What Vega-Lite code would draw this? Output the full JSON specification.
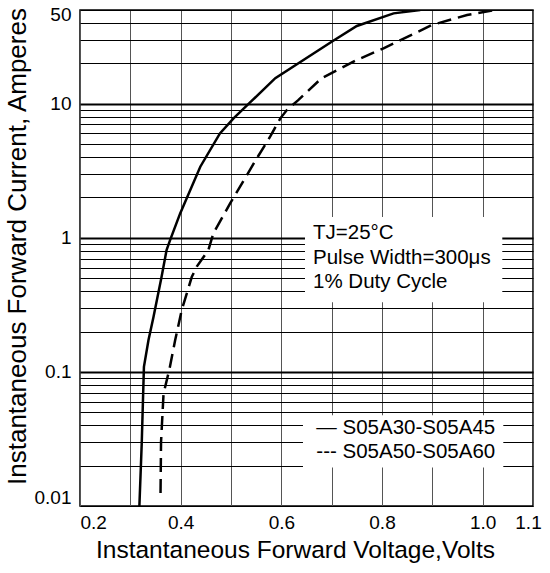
{
  "$schema": "https://vega.github.io/schema/vega-lite/v6.json",
  "width": 453,
  "height": 496,
  "autosize": "none",
  "padding": {"left": 80, "top": 10, "right": 17, "bottom": 67},
  "background": "white",
  "config": {"view": {"stroke": "black", "strokeWidth": 1.5}, "font": "Liberation Sans"},
  "datasets": {
    "curves": [
      {"s": "A", "V": 0.318, "I": 0.01},
      {"s": "A", "V": 0.3226, "I": 0.029},
      {"s": "A", "V": 0.327, "I": 0.109},
      {"s": "A", "V": 0.336, "I": 0.172},
      {"s": "A", "V": 0.346, "I": 0.257},
      {"s": "A", "V": 0.362, "I": 0.51},
      {"s": "A", "V": 0.372, "I": 0.81},
      {"s": "A", "V": 0.379, "I": 0.96},
      {"s": "A", "V": 0.399, "I": 1.52},
      {"s": "A", "V": 0.439, "I": 3.39},
      {"s": "A", "V": 0.478, "I": 6.0},
      {"s": "A", "V": 0.505, "I": 7.78},
      {"s": "A", "V": 0.54, "I": 10.4},
      {"s": "A", "V": 0.588, "I": 15.5},
      {"s": "A", "V": 0.7, "I": 29},
      {"s": "A", "V": 0.75, "I": 38},
      {"s": "A", "V": 0.823, "I": 47.2},
      {"s": "A", "V": 0.876, "I": 50},
      {"s": "B", "V": 0.36, "I": 0.0125},
      {"s": "B", "V": 0.361, "I": 0.03},
      {"s": "B", "V": 0.366, "I": 0.069},
      {"s": "B", "V": 0.378, "I": 0.106},
      {"s": "B", "V": 0.389, "I": 0.172},
      {"s": "B", "V": 0.402, "I": 0.288},
      {"s": "B", "V": 0.422, "I": 0.51},
      {"s": "B", "V": 0.432, "I": 0.61},
      {"s": "B", "V": 0.455, "I": 0.81},
      {"s": "B", "V": 0.465, "I": 1.08},
      {"s": "B", "V": 0.498, "I": 1.8},
      {"s": "B", "V": 0.551, "I": 3.9},
      {"s": "B", "V": 0.578, "I": 5.7},
      {"s": "B", "V": 0.598, "I": 7.78},
      {"s": "B", "V": 0.611, "I": 8.97},
      {"s": "B", "V": 0.633, "I": 10.6},
      {"s": "B", "V": 0.68, "I": 15.5},
      {"s": "B", "V": 0.75, "I": 21.2},
      {"s": "B", "V": 0.803, "I": 25.9},
      {"s": "B", "V": 0.899, "I": 38.6},
      {"s": "B", "V": 0.969, "I": 45.9},
      {"s": "B", "V": 1.025, "I": 50}
    ],
    "boxes": [
      {"V1": 0.647, "V2": 1.039, "I1": 0.331, "I2": 1.43},
      {"V1": 0.643, "V2": 1.041, "I1": 0.0194, "I2": 0.0475}
    ],
    "notes": [
      {"g": "cond", "V": 0.663, "I": 1.08, "label": "TJ=25°C"},
      {"g": "cond", "V": 0.663, "I": 0.705, "label": "Pulse Width=300μs"},
      {"g": "cond", "V": 0.663, "I": 0.467, "label": "1% Duty Cycle"},
      {"g": "leg", "V": 1.025, "I": 0.038, "label": "— S05A30-S05A45"},
      {"g": "leg", "V": 1.025, "I": 0.0251, "label": "--- S05A50-S05A60"}
    ]
  },
  "layer": [
    {
      "data": {"name": "curves"},
      "mark": {"type": "point", "opacity": 0},
      "encoding": {
        "x": {
          "field": "V", "type": "quantitative",
          "scale": {"domain": [0.2, 1.1], "nice": false, "zero": false},
          "axis": {
            "values": [0.2, 0.3, 0.4, 0.5, 0.6, 0.7, 0.8, 0.9, 1.0, 1.1],
            "grid": true, "gridColor": "#555", "gridWidth": 1,
            "ticks": false, "domain": false,
            "labelExpr": "indexof([0.3,0.5,0.7,0.9], datum.value) >= 0 ? '' : format(datum.value, '.1f')",
            "labelFontSize": 19, "labelColor": "black", "labelPadding": 7,
            "labelOverlap": false, "labelFlush": false,
            "labelAlign": {"condition": {"test": "datum.value == 0.2", "value": "left"}, "value": "center"},
            "labelOffset": {"condition": {"test": "datum.value == 1.1", "value": -5}, "value": 0},
            "title": "Instantaneous Forward Voltage,Volts",
            "titleFontSize": 24.5, "titleFontWeight": "normal", "titleColor": "black",
            "titleX": 215, "titleY": 44, "titleBaseline": "middle", "titleAlign": "center"
          }
        },
        "y": {
          "field": "I", "type": "quantitative",
          "scale": {"type": "log", "domain": [0.01, 50], "nice": false},
          "axis": {
            "values": [0.01, 0.02, 0.03, 0.04, 0.05, 0.06, 0.07, 0.08, 0.09, 0.1, 0.2, 0.3, 0.4, 0.5, 0.6, 0.7, 0.8, 0.9, 1, 2, 3, 4, 5, 6, 7, 8, 9, 10, 20, 30, 40, 50],
            "grid": true, "gridColor": "black",
            "gridWidth": {"condition": {"test": "indexof([0.1,1,10], datum.value) >= 0", "value": 2.2}, "value": 1},
            "ticks": false, "domain": false,
            "labelExpr": "indexof([0.01,0.1,1,10,50], datum.value) >= 0 ? format(datum.value, '~g') : ''",
            "labelFontSize": 19, "labelColor": "black", "labelPadding": 9,
            "labelOverlap": false, "labelFlush": false, "labelBaseline": "middle",
            "labelOffset": {"condition": [{"test": "datum.value == 50", "value": 4}, {"test": "datum.value == 0.01", "value": -9}], "value": 0},
            "title": "Instantaneous Forward Current, Amperes",
            "titleFontSize": 26, "titleFontWeight": "normal", "titleColor": "black",
            "titleX": -63, "titleY": 236, "titleBaseline": "middle", "titleAlign": "center"
          }
        }
      }
    },
    {
      "data": {"name": "boxes"},
      "mark": {"type": "rect", "fill": "white", "stroke": null},
      "encoding": {
        "x": {"field": "V1", "type": "quantitative", "scale": {"domain": [0.2, 1.1], "nice": false, "zero": false}},
        "x2": {"field": "V2"},
        "y": {"field": "I1", "type": "quantitative", "scale": {"type": "log", "domain": [0.01, 50], "nice": false}},
        "y2": {"field": "I2"}
      }
    },
    {
      "data": {"name": "curves"},
      "transform": [{"filter": "datum.s == 'A'"}],
      "mark": {"type": "line", "color": "black", "strokeWidth": 2.5, "clip": true},
      "encoding": {
        "x": {"field": "V", "type": "quantitative", "scale": {"domain": [0.2, 1.1], "nice": false, "zero": false}},
        "y": {"field": "I", "type": "quantitative", "scale": {"type": "log", "domain": [0.01, 50], "nice": false}},
        "order": {"field": "I", "type": "quantitative"}
      }
    },
    {
      "data": {"name": "curves"},
      "transform": [{"filter": "datum.s == 'B'"}],
      "mark": {"type": "line", "color": "black", "strokeWidth": 2.5, "strokeDash": [14, 7], "clip": true},
      "encoding": {
        "x": {"field": "V", "type": "quantitative", "scale": {"domain": [0.2, 1.1], "nice": false, "zero": false}},
        "y": {"field": "I", "type": "quantitative", "scale": {"type": "log", "domain": [0.01, 50], "nice": false}},
        "order": {"field": "I", "type": "quantitative"}
      }
    },
    {
      "data": {"name": "notes"},
      "transform": [{"filter": "datum.g == 'cond'"}],
      "mark": {"type": "text", "align": "left", "baseline": "middle", "fontSize": 20.5, "color": "black", "font": "Liberation Sans"},
      "encoding": {
        "x": {"field": "V", "type": "quantitative", "scale": {"domain": [0.2, 1.1], "nice": false, "zero": false}},
        "y": {"field": "I", "type": "quantitative", "scale": {"type": "log", "domain": [0.01, 50], "nice": false}},
        "text": {"field": "label"}
      }
    },
    {
      "data": {"name": "notes"},
      "transform": [{"filter": "datum.g == 'leg'"}],
      "mark": {"type": "text", "align": "right", "baseline": "middle", "fontSize": 20.5, "color": "black", "font": "Liberation Sans"},
      "encoding": {
        "x": {"field": "V", "type": "quantitative", "scale": {"domain": [0.2, 1.1], "nice": false, "zero": false}},
        "y": {"field": "I", "type": "quantitative", "scale": {"type": "log", "domain": [0.01, 50], "nice": false}},
        "text": {"field": "label"}
      }
    }
  ]
}
